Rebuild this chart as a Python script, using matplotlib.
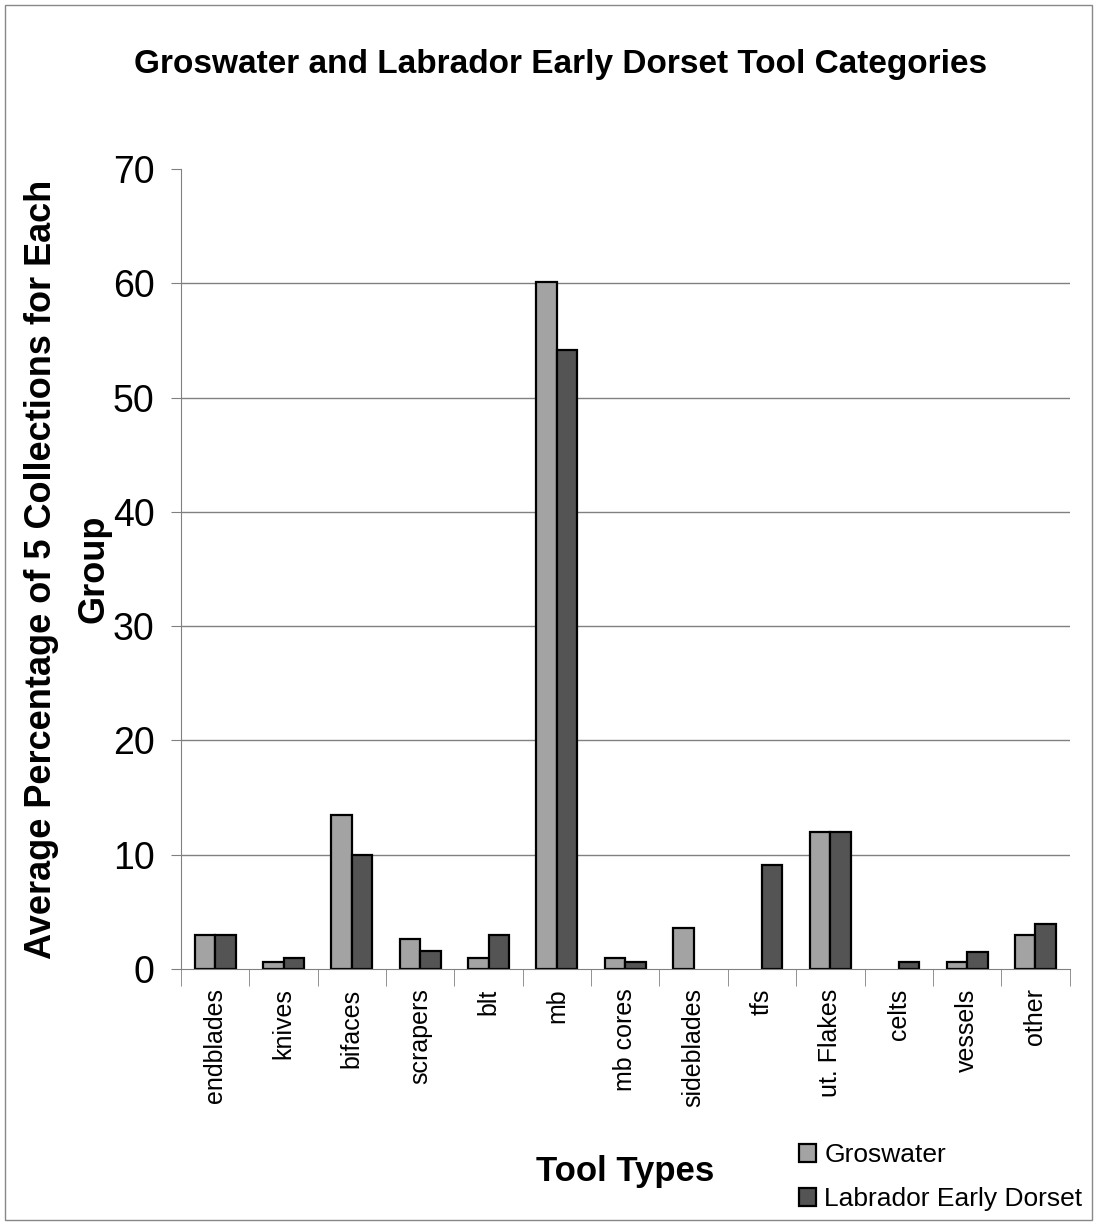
import numpy as np
import matplotlib
matplotlib.use("Agg")
import matplotlib.pyplot as plt
from matplotlib.patches import Rectangle

plt.rcParams['font.family'] = ['Liberation Sans', 'DejaVu Sans']

tool_types = ["endblades", "knives", "bifaces", "scrapers", "blt", "mb",
              "mb cores", "sideblades", "tfs", "ut. Flakes", "celts",
              "vessels", "other"]
groswater = [3.0, 0.6, 13.5, 2.6, 1.0, 60.1, 1.0, 3.6, 0.0, 12.0, 0.0, 0.6, 3.0]
early_dorset = [3.0, 1.0, 10.0, 1.6, 3.0, 54.2, 0.6, 0.0, 9.1, 12.0, 0.6, 1.5, 3.9]
y_ticks = [0, 10, 20, 30, 40, 50, 60, 70]

fig = plt.figure(figsize=(10.97, 12.24), dpi=100)
ax = fig.add_axes([0.165, 0.2083, 0.81, 0.6537])

x = np.arange(len(tool_types))
w = 0.3


def edge_widths(vals):
    # empty categories get no outline at all
    return [1.6 if v > 0 else 0 for v in vals]


ax.bar(x - w / 2, groswater, w, color="#a3a3a3", edgecolor="black",
       linewidth=edge_widths(groswater), label="Groswater")
ax.bar(x + w / 2, early_dorset, w, color="#545454", edgecolor="black",
       linewidth=edge_widths(early_dorset), label="Labrador Early Dorset")

ax.set_xlim(-0.5, len(tool_types) - 0.5)
ax.set_ylim(0, 70)
ax.set_yticks(y_ticks)
ax.set_yticklabels([str(v) for v in y_ticks], fontsize=27)
for v in y_ticks[1:-1]:
    ax.axhline(v, color="#808080", linewidth=1, zorder=0)

ax.set_xticks(x)
ax.set_xticklabels(tool_types, rotation=90, fontsize=18)
ax.tick_params(axis="x", which="major", length=0, pad=14)
ax.set_xticks(np.arange(len(tool_types) + 1) - 0.5, minor=True)
ax.tick_params(axis="x", which="minor", length=12, color="#808080")
ax.tick_params(axis="y", length=7, color="#808080", pad=12)

for side in ["top", "right"]:
    ax.spines[side].set_visible(False)
for side in ["left", "bottom"]:
    ax.spines[side].set_color("#808080")

ax.set_ylabel("Average Percentage of 5 Collections for Each\nGroup",
              fontsize=26, fontweight="bold", labelpad=1, linespacing=1.65)
ax.set_xlabel("Tool Types", fontsize=25, fontweight="bold")
ax.xaxis.set_label_coords(0.5, -0.232)

fig.suptitle("Groswater and Labrador Early Dorset Tool Categories",
             fontsize=24, fontweight="bold", x=0.511, y=0.960)

fig.legend(loc="lower left", bbox_to_anchor=(0.707, -0.009), fontsize=19,
           frameon=False, handlelength=0.65, handleheight=0.65,
           handletextpad=0.3, labelspacing=0.75)

fig.patches.append(Rectangle((0.005, 0.003), 0.99, 0.993, transform=fig.transFigure,
                             fill=False, edgecolor="#888888", linewidth=1))

fig.savefig("out.png", dpi=100)
